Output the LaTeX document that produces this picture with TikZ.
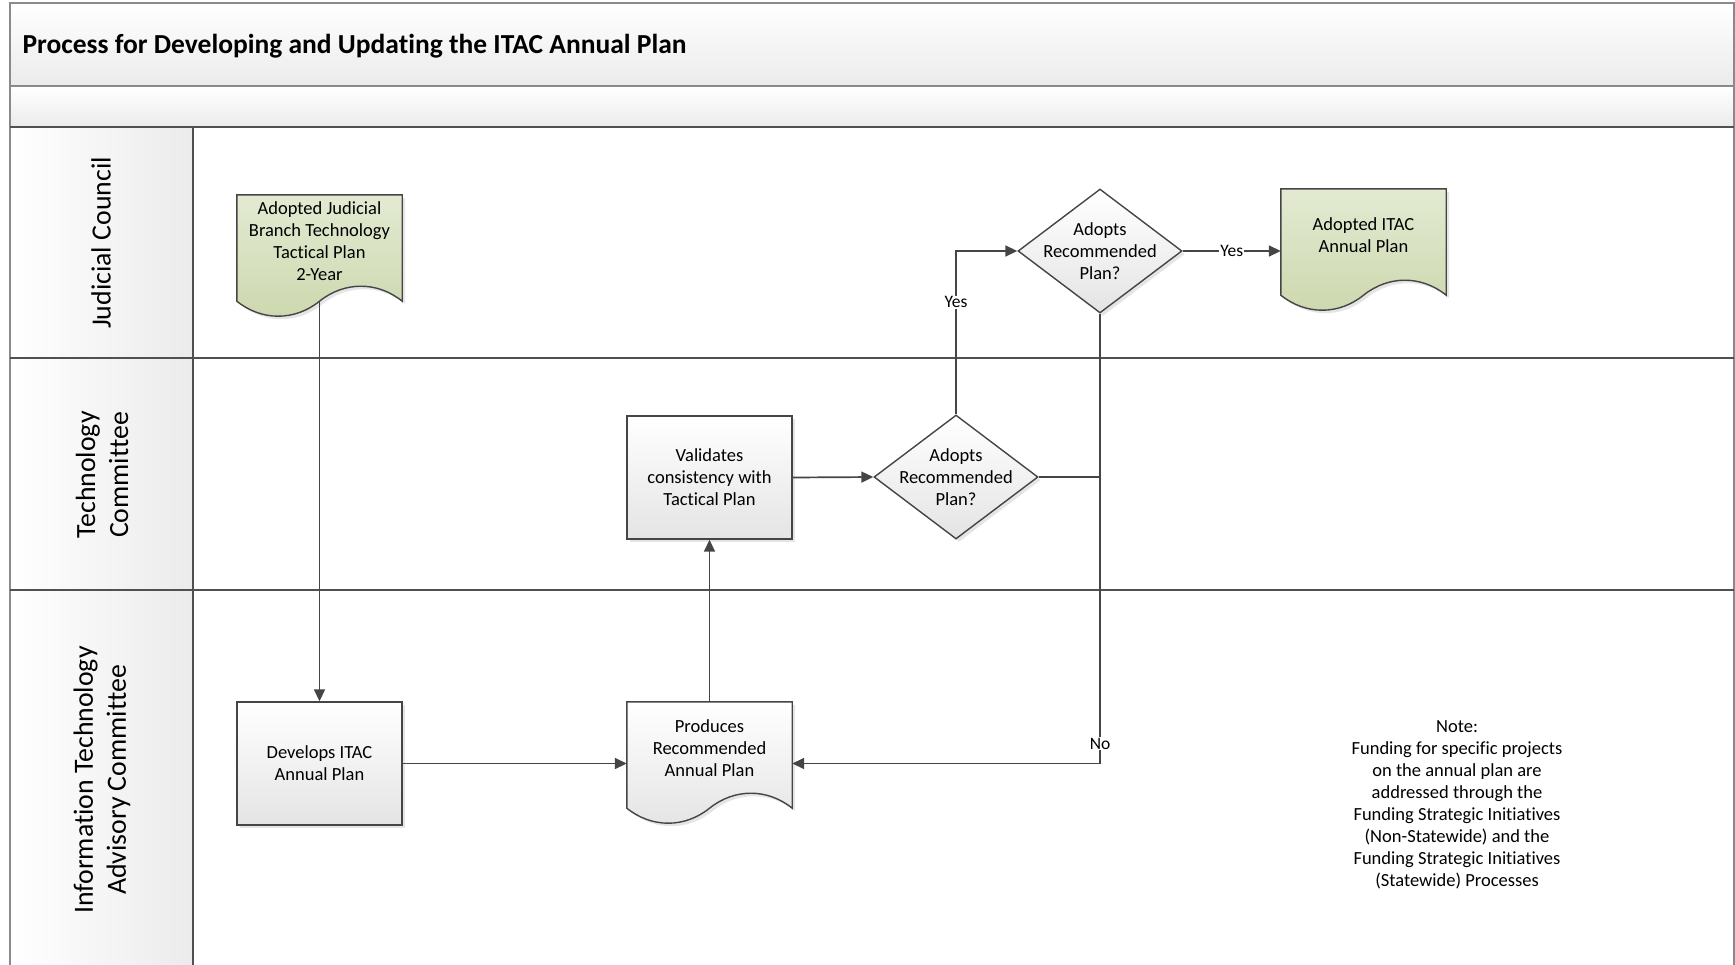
\documentclass[tikz,border=0pt]{standalone}
\usepackage{fontspec}
\setmainfont{Carlito}[Ligatures=NoCommon]
\usetikzlibrary{arrows.meta,shapes.geometric,calc,shadows}
\pgfdeclarelayer{bg}
\pgfdeclarelayer{mid}
\pgfsetlayers{bg,mid,main}

\definecolor{linec}{HTML}{454545}
\definecolor{framec}{HTML}{8A8A8A}
\definecolor{lanec}{HTML}{505050}
\definecolor{bandc}{HTML}{EBEBEB}
\definecolor{greentop}{HTML}{E3EAD2}
\definecolor{greenbot}{HTML}{CCD8AE}
\definecolor{boxbot}{HTML}{E4E4E4}

\tikzset{
  txt/.style={font=\fontsize{18.5}{22}\selectfont, align=center},
  shad/.style={drop shadow={shadow xshift=3pt, shadow yshift=-3pt, fill=black, opacity=0.1}},
  box/.style={rectangle, draw=linec, line width=1.4pt, top color=white, bottom color=boxbot,
    minimum width=165pt, minimum height=123pt, inner sep=2pt, txt, shad},
  doctext/.style={rectangle, minimum width=165pt, minimum height=92pt, inner sep=2pt, txt},
  decision/.style={diamond, draw=linec, line width=1.4pt, top color=white, bottom color=boxbot,
    minimum width=164pt, minimum height=124pt, inner sep=0pt, shad},
  conn/.style={draw=linec, line width=1.7pt},
  arr/.style={conn, -{Triangle[length=12pt,width=11pt]}},
  lbl/.style={fill=white, inner sep=1pt, font=\fontsize{17.5}{20}\selectfont},
  lanelbl/.style={rotate=90, align=center, font=\fontsize{27.8}{33}\selectfont},
  docgrey/.style={draw=linec, line width=1.4pt, top color=white, bottom color=boxbot, shad},
  docgreen/.style={draw=linec, line width=1.4pt, top color=greentop, bottom color=greenbot, shad},
}

\newcommand{\drawdoc}[2]{%
  \path[#2] (#1.north west) -- (#1.north east) -- ($(#1.south east)+(0,14)$)
    .. controls ($(#1.south east)+(-24.75,-6)$) and ($(#1.south east)+(-57.75,-6)$) .. ($(#1.south)+(0,14)$)
    .. controls ($(#1.south)+(-24.75,34)$) and ($(#1.south)+(-57.75,34)$) .. ($(#1.south west)+(0,14)$)
    -- cycle;}

\begin{document}
\begin{tikzpicture}[x=1pt,y=-1pt]
\useasboundingbox (0,0) rectangle (1735,964);

\begin{pgfonlayer}{bg}
  \path[top color=white, bottom color=bandc] (10,3) rectangle (1734,86);
  \path[top color=white, bottom color=bandc] (10,86) rectangle (1734,127);
  \path[left color=white, right color=bandc] (10,127) rectangle (193,970);
  \draw[framec, line width=2.2pt] (10,970) -- (10,3) -- (1734,3) -- (1734,970);
  \draw[framec, line width=2.2pt] (10,86) -- (1734,86);
  \draw[lanec, line width=2pt] (10,127) -- (1734,127);
  \draw[lanec, line width=2pt] (10,358) -- (1734,358);
  \draw[lanec, line width=2pt] (10,590) -- (1734,590);
  \draw[lanec, line width=1.6pt] (193,127) -- (193,970);
\end{pgfonlayer}

\node[anchor=west, font=\fontsize{27.5}{32}\selectfont\bfseries] (title) at (19,46)
  {Process for Developing and Updating the ITAC Annual Plan};

\node[lanelbl] (lane1) at (101,243) {Judicial Council};
\node[lanelbl] (lane2) at (102,475) {Technology\\Committee};
\node[lanelbl] (lane3) at (102,780) {Information Technology\\Advisory Committee};

\node[doctext] (doc1) at (319.5,241) {Adopted Judicial\\Branch Technology\\Tactical Plan\\2-Year};
\node[box] (dev) at (319.5,763.5) {Develops ITAC\\Annual Plan};
\node[doctext] (prod) at (709.5,748) {Produces\\Recommended\\Annual Plan};
\node[box] (val) at (709.5,477.5) {Validates\\consistency with\\Tactical Plan};
\node[decision] (d1) at (956,477) {};
\node[txt] (d1t) at (d1.center) {Adopts\\Recommended\\Plan?};
\node[decision] (d2) at (1100,251) {};
\node[txt] (d2t) at (d2.center) {Adopts\\Recommended\\Plan?};
\node[doctext] (out) at (1363.5,235) {Adopted ITAC\\Annual Plan};
\node[txt] (note) at (1457,805) {Note:\\Funding for specific projects\\on the annual plan are\\addressed through the\\Funding Strategic Initiatives\\(Non-Statewide) and the\\Funding Strategic Initiatives\\(Statewide) Processes};

\begin{pgfonlayer}{mid}
  \drawdoc{doc1}{docgreen}
  \drawdoc{prod}{docgrey}
  \drawdoc{out}{docgreen}
\end{pgfonlayer}

\coordinate (nocorner) at (d2.south |- dev.east);

\draw[arr] ($(doc1.south)+(0,14)$) -- (dev.north);
\draw[arr] (dev.east) -- (dev.east -| prod.west);
\draw[arr] (prod.north) -- (val.south);
\draw[arr] (val.east) -- (d1.west);
\draw[arr] (d1.north) |- node[lbl, pos=0.343] (yes1) {Yes} (d2.west);
\draw[arr] (d2.east) -- node[lbl] (yes2) {Yes} (d2.east -| out.west);
\draw[arr] (d2.south) -- node[lbl, pos=0.956] (no1) {No} (nocorner) -- (nocorner -| prod.east);
\draw[conn] (d1.east) -- (d1.east -| d2.south);
\end{tikzpicture}
\end{document}
